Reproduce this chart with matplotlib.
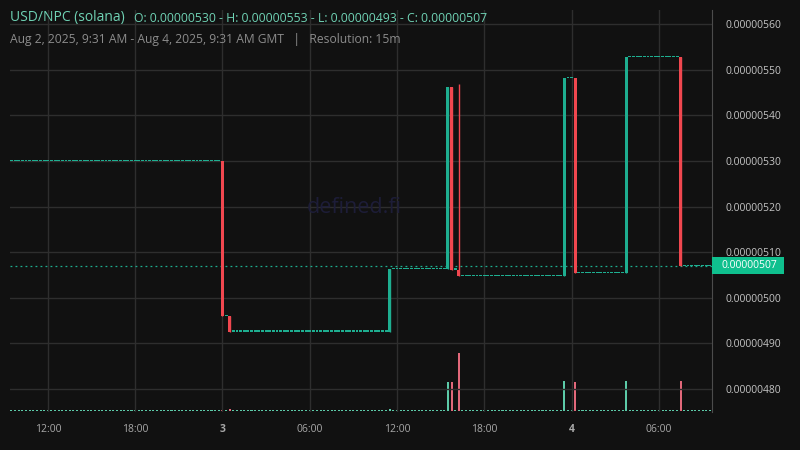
import matplotlib
matplotlib.use("Agg")
import matplotlib.pyplot as plt
import matplotlib.transforms as mtransforms
from matplotlib.patches import Rectangle
import numpy as np
from matplotlib.ticker import FuncFormatter

# prices in units of 1e-6 USD, time in hours since Aug 2 2025 00:00 GMT
start_price = 5.300
move_hours = [24.0, 24.5, 35.5, 39.5, 39.75, 40.25, 47.5, 48.25, 51.75, 55.5]
move_open  = [5.300, 4.960, 4.926, 5.063, 5.462, 5.062, 5.048, 5.482, 5.055, 5.527]
move_high  = [5.300, 4.960, 5.063, 5.462, 5.462, 5.469, 5.482, 5.482, 5.527, 5.527]
move_low   = [4.960, 4.926, 4.926, 5.063, 5.062, 5.048, 5.048, 5.055, 5.055, 5.070]
move_close = [4.960, 4.926, 5.063, 5.462, 5.062, 5.048, 5.482, 5.055, 5.527, 5.070]
move_vol   = [0.8, 2.5, 2.0, 30.0, 30.0, 60.0, 31.0, 30.0, 31.0, 31.0]

first_bar, last_bar = 9.5, 57.5
tick_hours = [12, 18, 24, 30, 36, 42, 48, 54]
tick_labels = ["12:00", "18:00", "3", "06:00", "12:00", "18:00", "4", "06:00"]
price_ticks = [4.8, 4.9, 5.0, 5.1, 5.2, 5.3, 5.4, 5.5, 5.6]

BG = "#111111"
GRID = "#2e2e2e"
UP = "#1eae90"
DOWN = "#f0474f"
VOL_UP = "#5ccaa8"
VOL_DOWN = "#e2687a"
TEAL_TXT = "#6fd2b4"

# forward fill the quiet 15m bars with the last close
t = np.arange(first_bar, last_bar + 0.001, 0.25)
O, H, L, C, V = [], [], [], [], []
last = start_price
for h in t:
    hit = [i for i, mh in enumerate(move_hours) if abs(mh - h) < 1e-6]
    if hit:
        i = hit[0]
        O.append(move_open[i]); H.append(move_high[i]); L.append(move_low[i])
        C.append(move_close[i]); V.append(move_vol[i])
        last = move_close[i]
    else:
        O.append(last); H.append(last); L.append(last); C.append(last); V.append(0.0)
O, H, L, C, V = map(np.array, (O, H, L, C, V))
up = C >= O

fig = plt.figure(figsize=(8, 4.5), dpi=100)
fig.patch.set_facecolor(BG)
rect = [10 / 800, 38 / 450, 702 / 800, 402 / 450]
ax = fig.add_axes(rect)
vax = ax.twinx()
ax.set_zorder(vax.get_zorder() + 1)
ax.patch.set_visible(False)
vax.set_facecolor(BG)

ymin, ymax = 4.7496, 5.631
px = (ymax - ymin) / 402.0

# volume
vcol = np.where(up, VOL_UP, VOL_DOWN)
vax.bar(t, np.maximum(V, 1.0), width=0.14, color=vcol, linewidth=0)
vax.set_ylim(-1.0, 414)
vax.set_yticks([])
for s in vax.spines.values():
    s.set_visible(False)

# candles
ccol = np.where(up, UP, DOWN)
ax.vlines(t, L, H, colors=ccol, linewidth=1.0, zorder=3)
body_lo = np.minimum(O, C)
body_h = np.maximum(np.abs(C - O), 1.1 * px)
ax.bar(t, body_h, bottom=body_lo, width=0.2, color=ccol, linewidth=0, zorder=4)

# last price line and label
ax.axhline(C[-1], color=UP, linestyle=(0, (1.5, 2.5)), linewidth=0.9, zorder=2)
blend = mtransforms.blended_transform_factory(ax.transAxes, ax.transData)
ax.add_patch(Rectangle((1.0, C[-1] - 8.5 * px), 72 / 702, 17 * px, transform=blend,
                       facecolor="#0fc08e", edgecolor="none", clip_on=False, zorder=10))
ax.text(1.0 + 10 / 702, C[-1], f"{C[-1] / 1e6:.8f}", transform=blend,
        ha="left", va="center", color="white", fontsize=7.5, family="Open Sans",
        zorder=11, clip_on=False)

ax.set_xlim(9.40, 57.65)
ax.set_ylim(ymin, ymax)
ax.set_yticks(price_ticks)
ax.yaxis.tick_right()
ax.yaxis.set_major_formatter(FuncFormatter(lambda v, p: f"{v / 1e6:.8f}"))
ax.set_xticks(tick_hours)
ax.set_xticklabels(tick_labels)
for lbl in ax.get_xticklabels():
    if lbl.get_text() in ("3", "4"):
        lbl.set_fontweight("bold")
        lbl.set_color("#d8d8d8")
ax.tick_params(axis="y", length=0, pad=10, labelsize=7.5, labelcolor="#c4c4c4")
ax.tick_params(axis="x", length=0, pad=9, labelsize=7.5, labelcolor="#a8a8a8")
for lbl in ax.get_xticklabels() + ax.get_yticklabels():
    lbl.set_family("Open Sans")
ax.grid(True, color=GRID, linewidth=1.0, zorder=0)
ax.set_axisbelow(True)
for name, s in ax.spines.items():
    s.set_visible(name == "right")
ax.spines["right"].set_color("#4c4c4c")

# watermark
ax.text(0.49, 0.508, "defined.fi", transform=ax.transAxes, ha="center", va="center",
        color="#1d1d38", fontsize=15.5, family="Open Sans", zorder=1)

# header
fig.text(10 / 800, 1 - 18 / 450, "USD/NPC (solana)", color=TEAL_TXT, fontsize=10,
         family="Open Sans", va="center")
fig.text(134 / 800, 1 - 18 / 450,
         "O: 0.00000530 - H: 0.00000553 - L: 0.00000493 - C: 0.00000507",
         color=TEAL_TXT, fontsize=8.8, family="Open Sans", va="center")
fig.text(10 / 800, 1 - 40 / 450,
         "Aug 2, 2025, 9:31 AM - Aug 4, 2025, 9:31 AM GMT   |   Resolution: 15m",
         color="#8c8c8c", fontsize=8.7, family="Open Sans", va="center")

fig.savefig("out.png", dpi=100, facecolor=BG)
